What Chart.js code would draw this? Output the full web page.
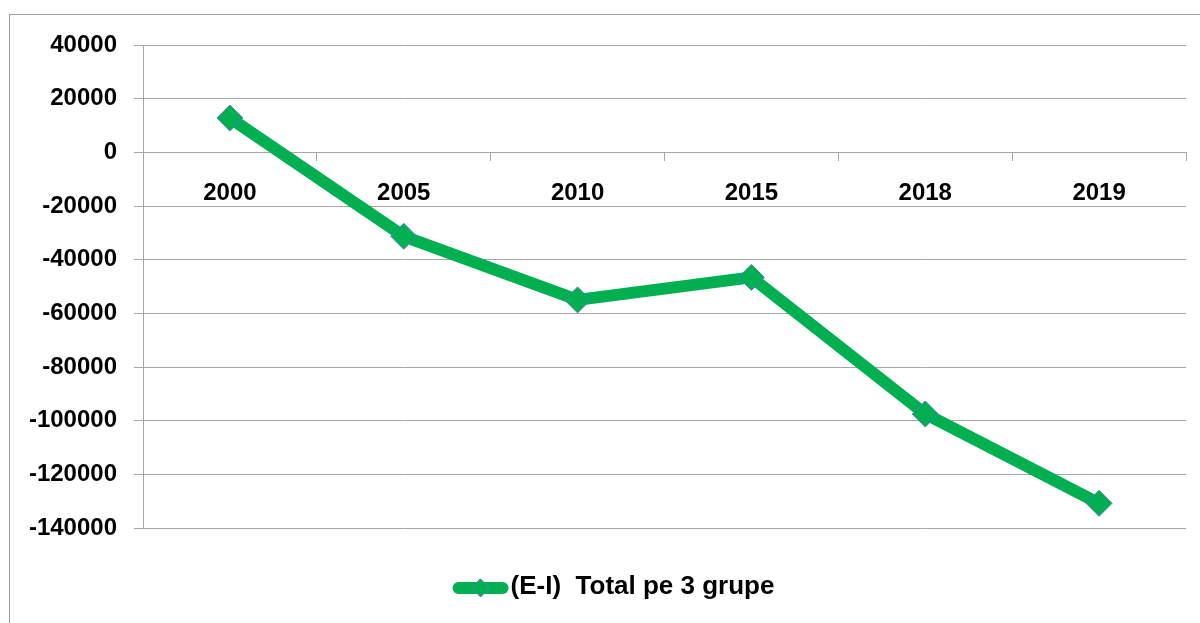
<!DOCTYPE html>
<html>
<head>
<meta charset="utf-8">
<script src="https://cdn.jsdelivr.net/npm/chart.js@4.4.1/dist/chart.umd.min.js"></script>
<style>
  html, body { margin: 0; padding: 0; background: #ffffff; }
  #wrap { width: 1200px; height: 623px; position: relative; }
</style>
</head>
<body>
<div id="wrap"><canvas id="c" width="1200" height="623"></canvas></div>
<script>
const categories = ['2000', '2005', '2010', '2015', '2018', '2019'];
const seriesName = '(E-I)  Total pe 3 grupe';
const seriesValues = [12800, -31300, -55000, -46600, -97500, -130800];
const yMin = -140000;
const yMax = 40000;
const yStep = 20000;

const GREEN = '#00B050';
const MARKER_EDGE = '#4F81BD';
const GRID = '#a6a6a6';
const FONT = 'Liberation Sans, Arial, sans-serif';
const LEGEND_SHIFT = 20;

const frameAndLegendMarker = {
  id: 'frameAndLegendMarker',
  afterLayout(chart) {
    const lg = chart.legend;
    if (lg) { lg.left += LEGEND_SHIFT; lg.right += LEGEND_SHIFT; }
  },
  beforeDraw(chart) {
    const ctx = chart.ctx;
    ctx.save();
    ctx.fillStyle = '#ffffff';
    ctx.fillRect(0, 0, chart.width, chart.height);
    ctx.strokeStyle = '#a0a0a0';
    ctx.lineWidth = 1;
    ctx.strokeRect(9.5, 14.5, 1300, 700);
    ctx.restore();
  },
  afterDraw(chart) {
    const lg = chart.legend;
    if (!lg || !lg.lineWidths) return;
    const lo = lg.options.labels;
    const pad = lo.padding;
    const fs = lo.font.size;
    const startX = (lg.left + pad + lg.right - lg.lineWidths[0]) / 2;
    const textX = startX + lo.boxWidth + fs / 2;
    const titleH = lg._computeTitleHeight();
    const cy = lg.top + pad + titleH + fs / 2 + 1;
    const x0 = textX - 58, x1 = textX - 2;
    const ctx = chart.ctx;
    ctx.save();
    ctx.strokeStyle = GREEN;
    ctx.lineWidth = 12;
    ctx.lineCap = 'round';
    ctx.beginPath();
    ctx.moveTo(x0 + 6, cy);
    ctx.lineTo(x1 - 6, cy);
    ctx.stroke();
    const cx = (x0 + x1) / 2;
    const r = 9;
    ctx.beginPath();
    ctx.moveTo(cx, cy - r);
    ctx.lineTo(cx + r, cy);
    ctx.lineTo(cx, cy + r);
    ctx.lineTo(cx - r, cy);
    ctx.closePath();
    ctx.fillStyle = GREEN;
    ctx.fill();
    ctx.strokeStyle = MARKER_EDGE;
    ctx.lineWidth = 1;
    ctx.stroke();
    ctx.restore();
  }
};

new Chart(document.getElementById('c'), {
  type: 'line',
  data: {
    labels: categories,
    datasets: [{
      label: seriesName,
      data: seriesValues,
      borderColor: GREEN,
      backgroundColor: GREEN,
      borderWidth: 12,
      borderJoinStyle: 'round',
      tension: 0,
      fill: false,
      pointStyle: 'rectRot',
      pointRadius: 13,
      pointHoverRadius: 13,
      pointBackgroundColor: GREEN,
      pointBorderColor: MARKER_EDGE,
      pointBorderWidth: 1
    }]
  },
  options: {
    responsive: false,
    animation: false,
    devicePixelRatio: 1,
    layout: { padding: { left: 0, right: 13, top: 45, bottom: 13 } },
    plugins: {
      tooltip: { enabled: false },
      legend: {
        position: 'bottom',
        align: 'center',
        title: { display: true, text: '', font: { size: 10 }, padding: { top: 24, bottom: 0 } },
        labels: {
          boxWidth: 45,
          boxHeight: 12,
          padding: 10,
          color: '#000000',
          font: { family: FONT, size: 26, weight: 'bold' },
          generateLabels(chart) {
            return chart.data.datasets.map((ds, i) => ({
              text: ds.label,
              fillStyle: 'rgba(0,0,0,0)',
              strokeStyle: 'rgba(0,0,0,0)',
              lineWidth: 0,
              hidden: false,
              datasetIndex: i,
              fontColor: '#000000'
            }));
          }
        }
      }
    },
    scales: {
      y: {
        min: yMin,
        max: yMax,
        afterFit(scale) { scale.width = 143; },
        ticks: {
          stepSize: yStep,
          padding: 17,
          color: '#000000',
          font: { family: FONT, size: 24, weight: 'bold' },
          callback: (v) => String(v)
        },
        grid: { color: GRID, lineWidth: 1, tickLength: 9, drawTicks: true },
        border: { display: true, color: GRID, width: 1 }
      },
      x: {
        type: 'category',
        position: { y: 0 },
        offset: true,
        ticks: {
          padding: 19,
          color: '#000000',
          maxRotation: 0,
          font: { family: FONT, size: 24, weight: 'bold' }
        },
        grid: { offset: true, drawOnChartArea: false, drawTicks: true, tickLength: 8, color: GRID, lineWidth: 1 },
        border: { display: true, color: GRID, width: 1 }
      }
    }
  },
  plugins: [frameAndLegendMarker]
});
</script>
</body>
</html>
